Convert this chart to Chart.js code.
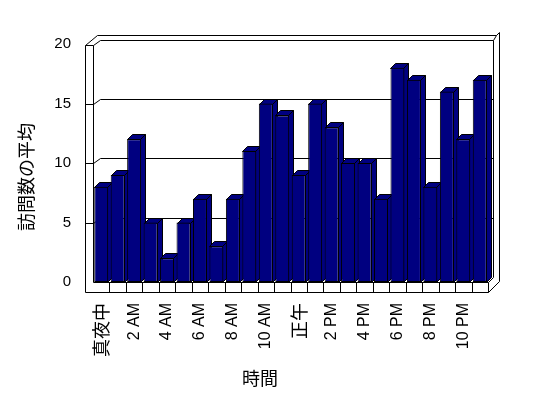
<!DOCTYPE html>
<html>
<head>
<meta charset="utf-8">
<script src="https://cdn.jsdelivr.net/npm/chart.js@4.4.1/dist/chart.umd.min.js"></script>
<style>
  html, body { margin: 0; padding: 0; background: #fff; }
  #wrap { width: 548px; height: 398px; }
</style>
</head>
<body>
<div id="wrap"><canvas id="chart" width="548" height="398"></canvas></div>
<script>
// hourly average visits
const hours = ['真夜中', '1 AM', '2 AM', '3 AM', '4 AM', '5 AM', '6 AM', '7 AM', '8 AM', '9 AM', '10 AM', '11 AM',
               '正午', '1 PM', '2 PM', '3 PM', '4 PM', '5 PM', '6 PM', '7 PM', '8 PM', '9 PM', '10 PM', '11 PM'];
const visits = [8, 9, 12, 5, 2, 5, 7, 3, 7, 11, 15, 14, 9, 15, 13, 10, 10, 7, 18, 17, 8, 16, 12, 17];
const yTicks = [0, 5, 10, 15, 20];
const yTitle = '訪問数の平均';
const xTitle = '時間';

const NAVY = '#000080';
const latin = 'Liberation Sans, Arial, sans-serif';
const cjk = '"Noto Sans CJK JP", sans-serif';
const hasCJK = s => /[\u3000-\u9fff]/.test(s);

// walls, floor and the depth faces of the columns (Excel-like 3D look)
const frame3d = {
    id: 'frame3d',
    beforeDatasetsDraw(chart) {
        const { ctx, chartArea: a, scales: { x, y } } = chart;
        const L = a.left, R = a.right, T = a.top, B = a.bottom;
        const line = pts => {
            ctx.beginPath();
            pts.forEach(([px, py], i) => i ? ctx.lineTo(px + 0.5, py + 0.5) : ctx.moveTo(px + 0.5, py + 0.5));
            ctx.stroke();
        };
        ctx.save();
        ctx.strokeStyle = '#000';
        ctx.lineWidth = 1;

        // outer outline
        line([[L - 8, B + 10], [L - 8, T + 1], [L + 4, T - 9], [R + 8, T - 9], [R + 11, T - 12],
              [R + 11, B - 1], [R, B + 10], [L - 8, B + 10]]);
        // front face of side wall
        line([[L - 8, T + 1], [L, T + 1], [L, B]]);
        // back wall
        line([[L, T + 1], [L + 7, T - 4], [R + 5, T - 4], [R + 5, B - 5]]);
        line([[R + 5, T - 4], [R + 8, T - 9]]);
        // floor
        line([[L, B], [R, B], [R, B + 10]]);
        line([[R, B], [R + 5, B - 5]]);

        // value ticks and gridlines
        yTicks.filter(v => v > 0 && v < 20).forEach(v => {
            const py = Math.round(y.getPixelForValue(v));
            line([[L - 8, py], [L, py], [L + 7, py - 5], [R + 5, py - 5]]);
        });
        // category dividers on the floor edge
        for (let i = 1; i < hours.length; i++) {
            const px = Math.round((x.getPixelForValue(i - 1) + x.getPixelForValue(i)) / 2);
            line([[px, B], [px, B + 10]]);
        }

        // column sides and tops
        const d = 5;
        chart.getDatasetMeta(0).data.forEach(bar => {
            const p = bar.getProps(['x', 'y', 'base', 'width'], true);
            const l = Math.round(p.x - p.width / 2) + 0.5, r = Math.round(p.x + p.width / 2) - 0.5;
            const top = Math.round(p.y) + 0.5, base = Math.round(p.base) + 0.5;
            ctx.fillStyle = NAVY;
            ctx.beginPath();
            ctx.moveTo(r, top); ctx.lineTo(r + d, top - d); ctx.lineTo(r + d, base - d); ctx.lineTo(r, base);
            ctx.closePath(); ctx.fill(); ctx.stroke();
            ctx.beginPath();
            ctx.moveTo(l, top); ctx.lineTo(l + d, top - d); ctx.lineTo(r + d, top - d); ctx.lineTo(r, top);
            ctx.closePath(); ctx.fill(); ctx.stroke();
        });
        ctx.restore();
    },
    afterDraw(chart) {
        const { ctx } = chart;
        ctx.save();
        ctx.fillStyle = '#000';
        ctx.font = '18px ' + cjk;
        ctx.textAlign = 'center';
        ctx.textBaseline = 'middle';
        ctx.fillText(xTitle, 260, 378);
        ctx.translate(26, 177);
        ctx.rotate(-Math.PI / 2);
        ctx.fillText(yTitle, 0, 0);
        ctx.restore();
    }
};

new Chart(document.getElementById('chart'), {
    type: 'bar',
    data: {
        labels: hours,
        datasets: [{
            data: visits,
            backgroundColor: NAVY,
            borderColor: '#000',
            borderWidth: 1,
            borderSkipped: false,
            barPercentage: 0.85,
            categoryPercentage: 1
        }]
    },
    options: {
        responsive: false,
        animation: false,
        layout: { padding: { left: 0, right: 60, top: 44, bottom: 0 } },
        plugins: { legend: { display: false }, tooltip: { enabled: false } },
        scales: {
            x: {
                grid: { display: false, drawTicks: false },
                border: { display: false },
                afterFit: s => { s.height = 116; },
                ticks: {
                    autoSkip: false,
                    minRotation: 90,
                    maxRotation: 90,
                    padding: 21,
                    color: '#000',
                    callback: (v, i) => i % 2 === 0 ? hours[i] : '',
                    font: c => {
                        const lab = hours[c.index] || '';
                        return hasCJK(lab) ? { family: cjk, size: 18 } : { family: latin, size: 16 };
                    }
                }
            },
            y: {
                min: 0,
                max: 20,
                grid: { display: false, drawTicks: false },
                border: { display: false },
                afterFit: s => { s.width = 93; },
                ticks: {
                    stepSize: 5,
                    padding: 22,
                    color: '#000',
                    font: { family: latin, size: 15 }
                }
            }
        }
    },
    plugins: [frame3d]
});
</script>
</body>
</html>
